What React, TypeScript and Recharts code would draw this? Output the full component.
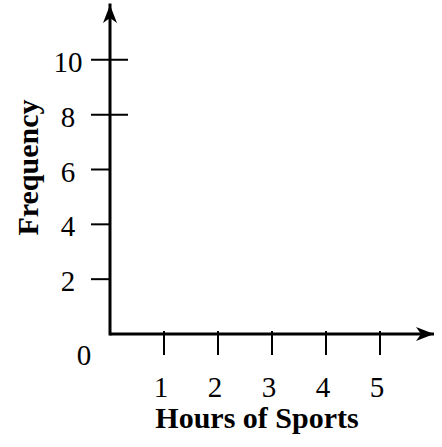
import React from 'react';
import { ComposedChart, Bar, XAxis, YAxis } from 'recharts';

// blank frequency grid: hours of sports vs frequency (nothing plotted yet)
const hours = [1, 2, 3, 4, 5];
const frequency: (number | null)[] = [null, null, null, null, null];
const frequencyTicks = [0, 2, 4, 6, 8, 10];
const crossingTicks = [8, 10]; // these ticks stick out on both sides of the axis

const rows = hours.map((h, i) => ({ hours: h, frequency: frequency[i] }));

const FONT = '"Liberation Serif", "Times New Roman", serif';
const INK = '#000';

const YTick = (props: any) => {
    const { x, y, payload } = props;
    const v = payload.value;
    if (v === 0) {
        return (
            <text x={x - 7} y={y + 31} textAnchor="middle" fontFamily={FONT} fontSize={29} fill={INK}>
                0
            </text>
        );
    }
    const len = crossingTicks.includes(v) ? 37 : 19;
    return (
        <g>
            <line x1={x} y1={y} x2={x + len} y2={y} stroke={INK} strokeWidth={2} />
            <text x={x - 23} y={y + 12} textAnchor="middle" fontFamily={FONT} fontSize={29} fill={INK}>
                {v}
            </text>
        </g>
    );
};

const XTick = (props: any) => {
    const { x, y, payload } = props;
    return (
        <g>
            <line x1={x} y1={y - 24} x2={x} y2={y} stroke={INK} strokeWidth={2} />
            <text x={x - 3} y={y + 42} textAnchor="middle" fontFamily={FONT} fontSize={29} fill={INK}>
                {payload.value}
            </text>
        </g>
    );
};

export default function App() {
    return (
        <div style={{ position: 'absolute', left: 0, top: 0, width: 442, height: 447, background: '#fff' }}>
            <svg width={0} height={0} style={{ position: 'absolute' }}>
                <defs>
                    <marker
                        id="axis-arrow"
                        viewBox="0 -8 19 16"
                        markerWidth={19}
                        markerHeight={16}
                        refX={18}
                        refY={0}
                        markerUnits="userSpaceOnUse"
                        orient="auto-start-reverse"
                    >
                        <path d="M0,-7 L18,0 L0,7 L5,0 Z" fill={INK} />
                    </marker>
                </defs>
            </svg>
            <ComposedChart width={442} height={447} data={rows} margin={{ top: 5, right: 8, bottom: 0, left: 0 }}>
                <XAxis
                    type="number"
                    dataKey="hours"
                    domain={[0, 6]}
                    allowDataOverflow
                    ticks={hours}
                    interval={0}
                    height={113}
                    tickSize={21}
                    tickMargin={0}
                    tickLine={false}
                    tick={<XTick />}
                    axisLine={{ stroke: INK, strokeWidth: 3, markerEnd: 'url(#axis-arrow)' }}
                    label={{
                        content: ({ viewBox }: any) => (
                            <text
                                x={viewBox.x + viewBox.width / 2 - 15}
                                y={viewBox.y + 94}
                                textAnchor="middle"
                                fontFamily={FONT}
                                fontWeight="bold"
                                fontSize={30}
                                fill={INK}
                            >
                                Hours of Sports
                            </text>
                        ),
                    }}
                />
                <YAxis
                    type="number"
                    domain={[0, 12]}
                    allowDataOverflow
                    ticks={frequencyTicks}
                    interval={0}
                    width={110}
                    tickSize={19}
                    tickMargin={0}
                    tickLine={false}
                    tick={<YTick />}
                    axisLine={{ stroke: INK, strokeWidth: 3, strokeLinecap: 'square', markerStart: 'url(#axis-arrow)' }}
                    label={{
                        content: ({ viewBox }: any) => {
                            const cx = viewBox.x + 38;
                            const cy = viewBox.y + viewBox.height / 2 - 2;
                            return (
                                <text
                                    x={cx}
                                    y={cy}
                                    transform={`rotate(-90 ${cx} ${cy})`}
                                    textAnchor="middle"
                                    fontFamily={FONT}
                                    fontWeight="bold"
                                    fontSize={30}
                                    fill={INK}
                                >
                                    Frequency
                                </text>
                            );
                        },
                    }}
                />
                <Bar dataKey="frequency" fill="#bbb" stroke={INK} isAnimationActive={false} />
            </ComposedChart>
        </div>
    );
}
